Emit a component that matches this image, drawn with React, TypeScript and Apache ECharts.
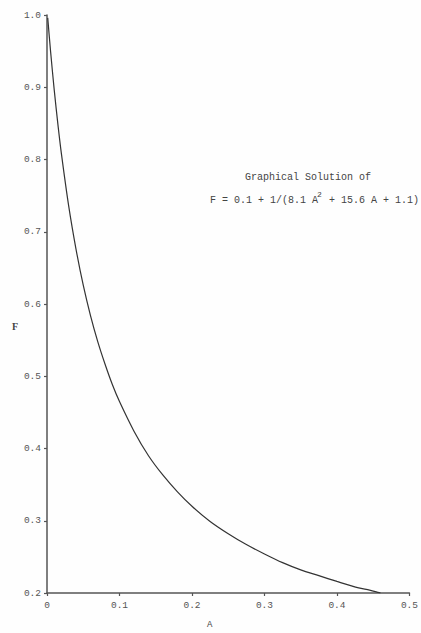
import React, { useEffect, useRef } from "react";
import * as echarts from "echarts";

// Values
const aValues = [0.001, 0.005, 0.01, 0.015, 0.02, 0.03, 0.04, 0.05, 0.06, 0.07, 0.08, 0.09, 0.1, 0.12, 0.14, 0.16, 0.18, 0.2, 0.225, 0.25, 0.275, 0.3, 0.325, 0.35, 0.375, 0.4, 0.43, 0.445, 0.46];
const fValues = [0.996, 0.949, 0.896, 0.849, 0.807, 0.735, 0.676, 0.626, 0.584, 0.548, 0.517, 0.489, 0.465, 0.424, 0.39, 0.363, 0.34, 0.32, 0.299, 0.282, 0.267, 0.254, 0.242, 0.232, 0.224, 0.216, 0.207, 0.204, 0.2];

const xTicks = ["0", "0.1", "0.2", "0.3", "0.4", "0.5"];
const titleLine = "Graphical Solution of";
const formulaA = "F = 0.1 + 1/(8.1 A";
const formulaSup = "2";
const formulaB = " + 15.6 A + 1.1)";
const xName = "A";
const yName = "F";

const MONO = "'Liberation Mono', 'DejaVu Sans Mono', monospace";

export default function App() {
  const ref = useRef<HTMLDivElement>(null);
  useEffect(() => {
    if (!ref.current) return;
    const chart = echarts.init(ref.current, undefined, { renderer: "svg" });
    const data = aValues.map((a, i) => [a, fValues[i]]);
    chart.setOption({
      animation: false,
      backgroundColor: "#fefefe",
      grid: { left: 47, right: 9, top: 15, bottom: 40 },
      xAxis: {
        type: "value",
        min: 0,
        max: 0.5,
        interval: 0.1,
        axisLine: { show: true, onZero: false, lineStyle: { color: "#555", width: 1.5 } },
        axisTick: { show: true, length: 3, inside: false, lineStyle: { color: "#555", width: 1.2 } },
        axisLabel: {
          fontFamily: MONO,
          fontSize: 9.5,
          color: "#555",
          margin: 7,
          formatter: (v: number) => xTicks[Math.round(v * 10)] ?? "",
        },
        splitLine: { show: false },
      },
      yAxis: {
        type: "value",
        min: 0.2,
        max: 1.0,
        interval: 0.1,
        axisLine: { show: true, onZero: false, lineStyle: { color: "#555", width: 1.5 } },
        axisTick: { show: true, length: 3, inside: false, lineStyle: { color: "#555", width: 1.2 } },
        axisLabel: {
          fontFamily: MONO,
          fontSize: 9.5,
          color: "#555",
          margin: 6,
          formatter: (v: number) => v.toFixed(1),
        },
        splitLine: { show: false },
      },
      graphic: [
        {
          type: "text",
          left: 245,
          top: 172,
          style: { text: titleLine, fontFamily: MONO, fontSize: 10, fill: "#444" },
        },
        {
          type: "text",
          x: 210,
          y: 195,
          style: { text: formulaA, fontFamily: MONO, fontSize: 10, fill: "#444" },
        },
        {
          type: "text",
          x: 317,
          y: 190,
          style: { text: formulaSup, fontFamily: MONO, fontSize: 8, fill: "#444" },
        },
        {
          type: "text",
          x: 323,
          y: 195,
          style: { text: formulaB, fontFamily: MONO, fontSize: 10, fill: "#444" },
        },
        {
          type: "text",
          x: 12,
          y: 321,
          style: { text: yName, fontFamily: "'Liberation Serif', serif", fontWeight: "bold", fontSize: 10, fill: "#444" },
        },
        {
          type: "text",
          x: 207,
          y: 620,
          style: { text: xName, fontFamily: MONO, fontSize: 9, fill: "#444" },
        },
      ],
      series: [
        {
          type: "line",
          data,
          showSymbol: false,
          smooth: 0.3,
          lineStyle: { color: "#333", width: 1.2 },
        },
      ],
    });
    return () => chart.dispose();
  }, []);
  return <div ref={ref} style={{ position: "fixed", left: 0, top: 0, width: 421, height: 633 }} />;
}
